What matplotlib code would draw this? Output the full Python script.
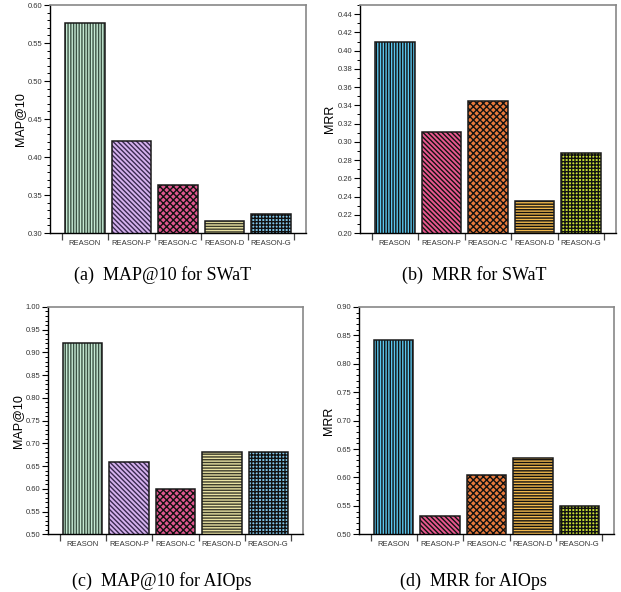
import matplotlib
matplotlib.use("Agg")
import matplotlib.pyplot as plt
from matplotlib.ticker import MultipleLocator, FormatStrFormatter

#--- DATA ---
methods = ["REASON", "REASON-P", "REASON-C", "REASON-D", "REASON-G"]

map_swat = [0.576, 0.421, 0.363, 0.316, 0.325]
mrr_swat = [0.410, 0.311, 0.345, 0.235, 0.288]
map_aiops = [0.921, 0.660, 0.599, 0.681, 0.681]
mrr_aiops = [0.842, 0.532, 0.605, 0.634, 0.550]

captions = ["(a)  MAP@10 for SWaT", "(b)  MRR for SWaT",
            "(c)  MAP@10 for AIOps", "(d)  MRR for AIOps"]

#--- STYLE ---
plt.rcParams["font.family"] = ["Liberation Sans", "DejaVu Sans"]
plt.rcParams["hatch.linewidth"] = 1.0

hatches = ["||||||", "\\\\\\\\\\\\\\", "xxxxx", "------", "+++++"]

# MAP panels
map_faces = ["#c6ead4", "#d6b2ee", "#e0578f", "#e9e2a4", "#80c6ea"]
map_hatch_cols = ["#3c5244", "#3a2a50", "#111111", "#3a3a2a", "#111111"]
# MRR panels
mrr_faces = ["#5ac6ee", "#e8588e", "#e87a3c", "#f1b84c", "#c9e036"]
mrr_hatch_cols = ["#111111", "#111111", "#111111", "#111111", "#111111"]

panels = [
    # values, ylabel, ylim, major step, faces, hatch colours, axes rect
    (map_swat, "MAP@10", (0.30, 0.60), 0.05, map_faces, map_hatch_cols,
     [0.0805, 0.6064, 0.4122, 0.3851]),
    (mrr_swat, "MRR", (0.20, 0.45), 0.02, mrr_faces, mrr_hatch_cols,
     [0.5797, 0.6064, 0.4122, 0.3851]),
    (map_aiops, "MAP@10", (0.50, 1.00), 0.05, map_faces, map_hatch_cols,
     [0.0773, 0.0975, 0.4106, 0.3840]),
    (mrr_aiops, "MRR", (0.50, 0.90), 0.05, mrr_faces, mrr_hatch_cols,
     [0.5781, 0.0975, 0.4106, 0.3840]),
]
caption_pos = [(0.2625, 0.535), (0.763, 0.535), (0.261, 0.019), (0.762, 0.019)]

fig = plt.figure(figsize=(6.21, 5.92), dpi=100)

for (vals, ylabel, ylim, step, faces, hcols, rect), cap, cpos in zip(panels, captions, caption_pos):
    ax = fig.add_axes(rect)
    x = list(range(len(methods)))

    bars = ax.bar(x, vals, width=0.85, color=faces, linewidth=0, zorder=2)
    for b, h, hc in zip(bars, hatches, hcols):
        b.set_hatch(h)
        b.set_edgecolor(hc)
    # outline on top
    ax.bar(x, vals, width=0.85, fill=False, edgecolor="#1a1a1a", linewidth=1.1, zorder=3)

    ax.set_xlim(-0.75, 4.75)
    ax.set_ylim(*ylim)

    # category labels under bars, ticks on the boundaries
    ax.set_xticks(x)
    ax.set_xticklabels(methods, fontsize=5.5, color="#333333")
    ax.set_xticks([i - 0.5 for i in range(len(methods) + 1)], minor=True)
    ax.tick_params(axis="x", which="major", length=0, pad=5)
    ax.tick_params(axis="x", which="minor", length=5, width=0.9, color="#444444", direction="out")

    ax.yaxis.set_major_locator(MultipleLocator(step))
    ax.yaxis.set_minor_locator(MultipleLocator(0.01))
    ax.yaxis.set_major_formatter(FormatStrFormatter("%.2f"))
    ax.tick_params(axis="y", which="major", length=4, width=0.8, labelsize=5.5,
                   labelcolor="#333333", direction="out", pad=1.5)
    ax.tick_params(axis="y", which="minor", length=2.5, width=0.7, direction="out")
    ax.set_ylabel(ylabel, fontsize=9, labelpad=1)

    for side in ["left", "bottom"]:
        ax.spines[side].set_color("black")
        ax.spines[side].set_linewidth(1.0)
    for side in ["top", "right"]:
        ax.spines[side].set_color("#888888")
        ax.spines[side].set_linewidth(1.2)

    fig.text(cpos[0], cpos[1], cap, ha="center", va="center", fontsize=13,
             family=["Liberation Serif", "DejaVu Serif"])

fig.savefig("out.png", dpi=100)
